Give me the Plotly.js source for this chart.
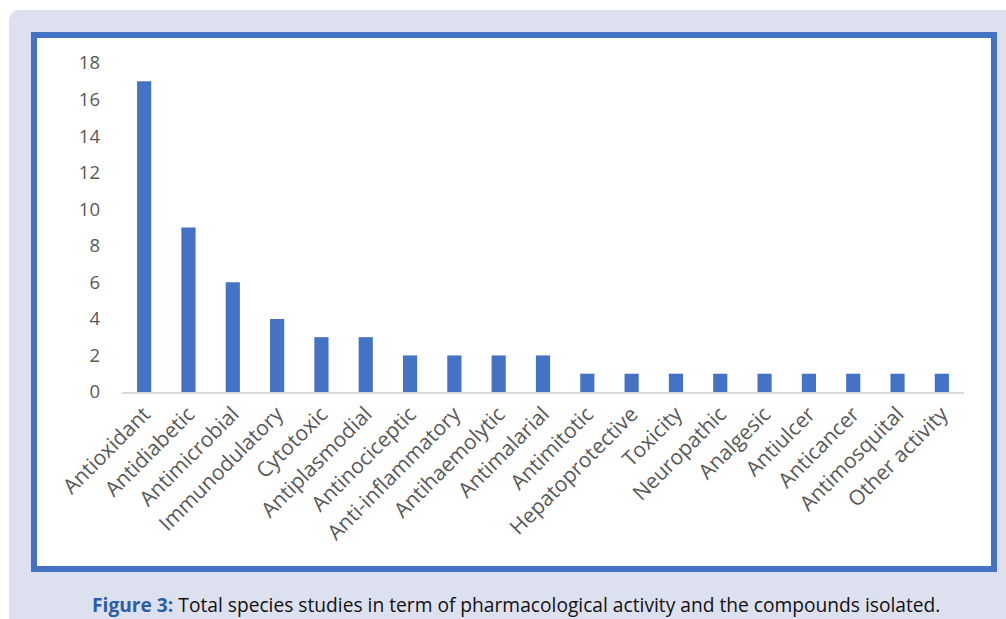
<!DOCTYPE html>
<html><head><meta charset="utf-8">
<script src="https://cdn.plot.ly/plotly-3.0.1.min.js"></script>
<style>
html,body{margin:0;padding:0;background:#fff;width:1006px;height:619px;overflow:hidden;}
#panel{position:absolute;left:9px;top:10px;width:997px;height:609px;background:#dde0ee;border-top-left-radius:10px;}
#chart{position:absolute;left:0;top:0;width:1006px;height:619px;}
</style></head>
<body>
<div id="panel"></div>
<div id="chart"></div>
<script>
const categories = ["Antioxidant","Antidiabetic","Antimicrobial","Immunodulatory","Cytotoxic","Antiplasmodial","Antinociceptic","Anti-inflammatory","Antihaemolytic","Antimalarial","Antimitotic","Hepatoprotective","Toxicity","Neuropathic","Analgesic","Antiulcer","Anticancer","Antimosquital","Other activity"];
const counts = [17,9,6,4,3,3,2,2,2,2,1,1,1,1,1,1,1,1,1];
const yTicks = [0,2,4,6,8,10,12,14,16,18];
const caption = '<b><span style="color:#2a5ea8">Figure 3:</span></b> Total species studies in term of pharmacological activity and the compounds isolated.';

const L=122, R=964, T=63, B=392;
const W=R-L, H=B-T;
const px=x=>(x-L)/W, py=y=>(B-y)/H;

Plotly.newPlot('chart',[{
  type:'bar', x:categories, y:counts,
  marker:{color:'#4472c4'}, hoverinfo:'x+y'
}],{
  width:1006,height:619,
  margin:{l:L,r:1006-R,t:T,b:619-B,pad:0},
  paper_bgcolor:'rgba(0,0,0,0)', plot_bgcolor:'rgba(0,0,0,0)',
  bargap:0.68,
  font:{family:'"Open Sans", sans-serif',color:'#595959'},
  xaxis:{tickangle:-45,tickfont:{size:21,color:'#595959'},showline:true,linecolor:'#d9d9d9',linewidth:1.5,ticks:'',showgrid:false,zeroline:false,fixedrange:true},
  yaxis:{range:[0,18],tickvals:yTicks,ticktext:yTicks.map(String),tickfont:{size:18.5,color:'#595959'},showgrid:false,zeroline:false,showline:false,ticks:'',ticklabelstandoff:21,fixedrange:true},
  shapes:[{type:'rect',xref:'paper',yref:'paper',layer:'below',x0:px(34),x1:px(994),y0:py(569),y1:py(35),fillcolor:'#ffffff',line:{color:'#4472c4',width:6}}],
  annotations:[{xref:'paper',yref:'paper',x:px(516),y:py(604),xanchor:'center',yanchor:'middle',showarrow:false,text:caption,font:{family:'"Open Sans", sans-serif',size:19.2,color:'#111111'}}]
},{displayModeBar:false,staticPlot:true});
</script>
</body></html>
